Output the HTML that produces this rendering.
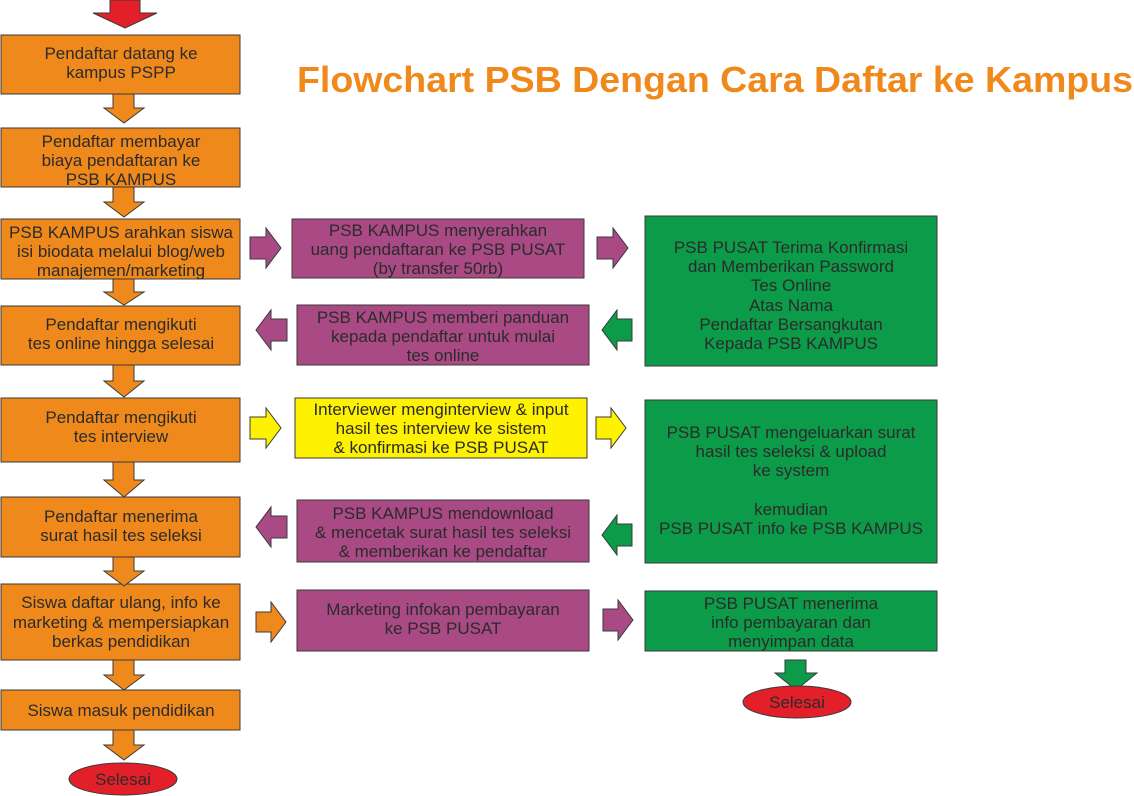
<!DOCTYPE html>
<html><head><meta charset="utf-8"><style>
html,body{margin:0;padding:0;background:#fff;width:1134px;height:796px;overflow:hidden}
svg text{font-family:"Liberation Sans",sans-serif;font-size:17px;fill:#2b2b2b;text-anchor:middle}
</style></head><body>
<svg width="1134" height="796" viewBox="0 0 1134 796" xmlns="http://www.w3.org/2000/svg">
<g stroke="#3a3a3a" stroke-width="1">
<polygon points="110,0 140,0 140,13 157,13 125,28 93,13 110,13" fill="#e3202a"/>
<g fill="#f0891c">
<rect x="1" y="35" width="239" height="59"/>
<rect x="1" y="128" width="239" height="59"/>
<rect x="1" y="219" width="239" height="60"/>
<rect x="1" y="306" width="239" height="59"/>
<rect x="1" y="398" width="239" height="64"/>
<rect x="1" y="497" width="239" height="60"/>
<rect x="1" y="584" width="239" height="76"/>
<rect x="1" y="690" width="239" height="40"/>
</g>
<g fill="#f0891c">
<polygon points="113,94 134,94 134,108 144,108 124,123 104,108 113,108"/>
<polygon points="113,187 134,187 134,202 144,202 124,217 104,202 113,202"/>
<polygon points="113,279 134,279 134,292 144,292 124,305 104,292 113,292"/>
<polygon points="113,365 134,365 134,381 144,381 124,397 104,381 113,381"/>
<polygon points="113,462 134,462 134,480 144,480 124,497 104,480 113,480"/>
<polygon points="113,557 134,557 134,571 144,571 124,586 104,571 113,571"/>
<polygon points="113,660 134,660 134,675 144,675 124,690 104,675 113,675"/>
<polygon points="113,730 134,730 134,745 144,745 124,760 104,745 113,745"/>
<polygon points="256,612 271,612 271,602 286,622 271,642 271,632 256,632"/>
</g>
<g fill="#a94a85">
<rect x="292" y="219" width="292" height="59"/>
<rect x="297" y="305" width="292" height="60"/>
<rect x="297" y="500" width="292" height="62"/>
<rect x="297" y="590" width="292" height="61"/>
<polygon points="250,237 266,237 266,228 281,248 266,268 266,259 250,259"/>
<polygon points="597,237 613,237 613,228 628,248 613,268 613,259 597,259"/>
<polygon points="287,319 271,319 271,310 256,330 271,350 271,341 287,341"/>
<polygon points="287,516 271,516 271,507 256,527 271,547 271,538 287,538"/>
<polygon points="603,609 618,609 618,600 633,620 618,640 618,631 603,631"/>
</g>
<g fill="#fff200">
<rect x="295" y="398" width="292" height="60"/>
<polygon points="250,417 266,417 266,408 281,428 266,448 266,439 250,439"/>
<polygon points="596,417 611,417 611,408 626,428 611,448 611,439 596,439"/>
</g>
<g fill="#0c9b48">
<rect x="645" y="216" width="292" height="150"/>
<rect x="645" y="400" width="292" height="163"/>
<rect x="645" y="591" width="292" height="60"/>
<polygon points="632,319 617,319 617,310 602,330 617,350 617,341 632,341"/>
<polygon points="632,524 617,524 617,515 602,535 617,555 617,546 632,546"/>
<polygon points="785,660 806,660 806,673 817,673 796,690 775,673 785,673"/>
</g>
<ellipse cx="123" cy="779" rx="54" ry="16" fill="#e3202a"/>
<ellipse cx="797" cy="702" rx="54" ry="16" fill="#e3202a"/>
</g>

<text x="925" y="0" style="font-size:36px;font-weight:bold;fill:#f0891c;text-anchor:end" transform="translate(208,92)" textLength="836" lengthAdjust="spacingAndGlyphs">Flowchart PSB Dengan Cara Daftar ke Kampus</text>

<text x="121" y="59">Pendaftar datang ke</text>
<text x="121" y="78">kampus PSPP</text>
<text x="121" y="147">Pendaftar membayar</text>
<text x="121" y="166">biaya pendaftaran ke</text>
<text x="121" y="185">PSB KAMPUS</text>
<text x="121" y="238">PSB KAMPUS arahkan siswa</text>
<text x="121" y="257">isi biodata melalui blog/web</text>
<text x="121" y="276">manajemen/marketing</text>
<text x="121" y="330">Pendaftar mengikuti</text>
<text x="121" y="349">tes online hingga selesai</text>
<text x="121" y="423">Pendaftar mengikuti</text>
<text x="121" y="442">tes interview</text>
<text x="121" y="522">Pendaftar menerima</text>
<text x="121" y="541">surat hasil tes seleksi</text>
<text x="121" y="608">Siswa daftar ulang, info ke</text>
<text x="121" y="628">marketing &amp; mempersiapkan</text>
<text x="121" y="647">berkas pendidikan</text>
<text x="121" y="716">Siswa masuk pendidikan</text>
<text x="123" y="785">Selesai</text>

<text x="438" y="236">PSB KAMPUS menyerahkan</text>
<text x="438" y="255">uang pendaftaran ke PSB PUSAT</text>
<text x="438" y="274">(by transfer 50rb)</text>
<text x="443" y="323">PSB KAMPUS memberi panduan</text>
<text x="443" y="342">kepada pendaftar untuk mulai</text>
<text x="443" y="361">tes online</text>
<text x="441" y="415">Interviewer menginterview &amp; input</text>
<text x="441" y="434">hasil tes interview ke sistem</text>
<text x="441" y="453">&amp; konfirmasi ke PSB PUSAT</text>
<text x="443" y="519">PSB KAMPUS mendownload</text>
<text x="443" y="538">&amp; mencetak surat hasil tes seleksi</text>
<text x="443" y="557">&amp; memberikan ke pendaftar</text>
<text x="443" y="615">Marketing infokan pembayaran</text>
<text x="443" y="634">ke PSB PUSAT</text>

<text x="791" y="253">PSB PUSAT Terima Konfirmasi</text>
<text x="791" y="272">dan Memberikan Password</text>
<text x="791" y="291">Tes Online</text>
<text x="791" y="311">Atas Nama</text>
<text x="791" y="330">Pendaftar Bersangkutan</text>
<text x="791" y="349">Kepada PSB KAMPUS</text>
<text x="791" y="438">PSB PUSAT mengeluarkan surat</text>
<text x="791" y="457">hasil tes seleksi &amp; upload</text>
<text x="791" y="476">ke system</text>
<text x="791" y="515">kemudian</text>
<text x="791" y="534">PSB PUSAT info ke PSB KAMPUS</text>
<text x="791" y="609">PSB PUSAT menerima</text>
<text x="791" y="628">info pembayaran dan</text>
<text x="791" y="647">menyimpan data</text>
<text x="797" y="708">Selesai</text>
</svg>
</body></html>
